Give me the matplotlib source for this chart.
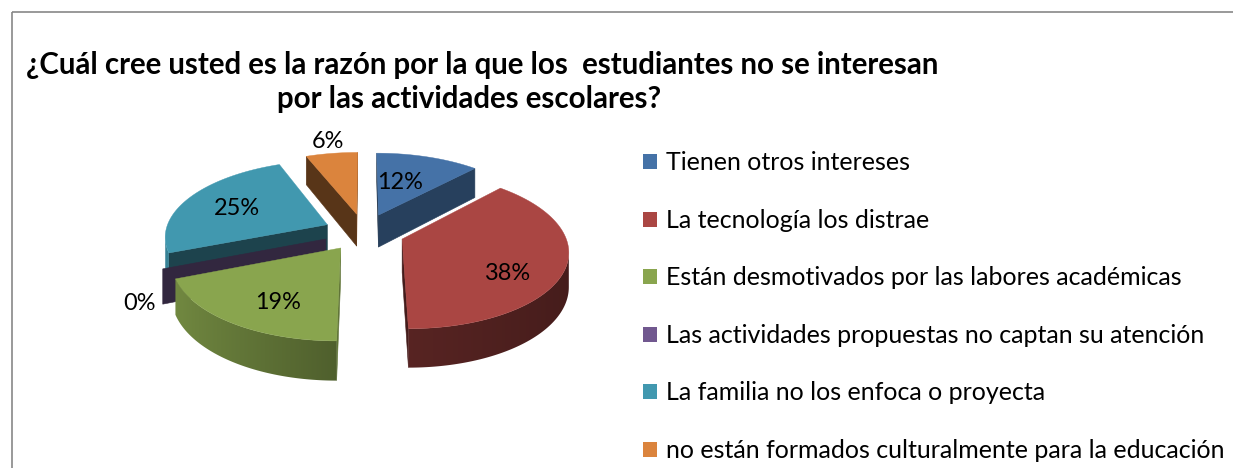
import numpy as np
import matplotlib
matplotlib.use("Agg")
import matplotlib.pyplot as plt
from matplotlib.patches import Polygon, Rectangle
from matplotlib.colors import to_rgb

# ---------------- data ----------------
categories = [
    "Tienen otros intereses",
    "La tecnología los distrae",
    "Están desmotivados por las labores académicas",
    "Las actividades propuestas no captan su atención",
    "La familia no los enfoca o proyecta",
    "no están formados culturalmente para la educación",
]
values = [12, 38, 19, 0, 25, 6]
colors = ["#4572A7", "#AA4643", "#89A54E", "#71588F", "#4198AF", "#DB843D"]
title_line1 = "¿Cuál cree usted es la razón por la que los  estudiantes no se interesan"
title_line2 = "por las actividades escolares?"

# label anchor positions (pixel, baseline) - layout only
label_pos = [(400, 189), (507, 280), (278, 309), (140, 310), (237, 215), (328, 148)]

FONT = "Lato"

W, H = 1233, 468
fig = plt.figure(figsize=(W / 100, H / 100), dpi=100)
ax = fig.add_axes([0, 0, 1, 1])
ax.axis("off")

# border of chart area
ax.add_patch(Rectangle((11.5, 12), W + 20, H + 20, fill=False,
                       edgecolor="#878787", linewidth=1.2))

# ---------------- 3D pie geometry ----------------
cx, cy = 364.0, 232.0
R, r = 162.0, 75.0
k = 0.14
D = 33.0
expl = 0.25
cam = np.array([0.0, -1.0 / k])


def proj(u, v, z):
    s = 1.0 / (1.0 + k * v)
    return cx + R * u * s, cy - r * v * s + D * z * s


def shade(c, f):
    c = np.array(to_rgb(c))
    return tuple(np.clip(c * f, 0, 1))


def side_factor(u):
    f = 0.54 - 0.27 * u if u < 0 else 0.54 - 0.11 * u
    return float(np.clip(f, 0.3, 0.9))


total = float(sum(values))
fr = np.array(values) / total
starts = np.concatenate([[0], np.cumsum(fr)[:-1]]) * 2 * np.pi
ends = np.cumsum(fr) * 2 * np.pi

slices = []
for i in range(len(values)):
    a0, a1 = starts[i], ends[i]
    m = 0.5 * (a0 + a1)
    ou, ov = expl * np.sin(m), expl * np.cos(m)
    slices.append((i, a0, a1, ou, ov))

order = sorted(slices, key=lambda s: -s[4])


def rim(ou, ov, th):
    return ou + np.sin(th), ov + np.cos(th)


def quad_wall(ou, ov, th):
    u1, v1 = rim(ou, ov, th)
    return [proj(ou, ov, 0), proj(u1, v1, 0), proj(u1, v1, 1), proj(ou, ov, 1)]


# walls
for (i, a0, a1, ou, ov) in order:
    base = colors[i]
    P = np.array([ou, ov])
    walls = []
    for th, n in ((a0, np.array([-np.cos(a0), np.sin(a0)])),
                  (a1, np.array([np.cos(a1), -np.sin(a1)]))):
        if np.dot(n, cam - P) > 0:
            f = 0.40 + 0.30 * max(n[0], 0) ** 2
            walls.append((rim(ou, ov, th)[1], th, f))
    walls.sort(key=lambda w: -w[0])
    for _, th, f in walls:
        col = shade(base, f)
        ax.add_patch(Polygon(quad_wall(ou, ov, th), closed=True,
                             facecolor=col, edgecolor=col, linewidth=0.4))
    # outer curved wall with smooth horizontal gradient
    if a1 > a0:
        ths = np.linspace(a0, a1, 400)
        vis = []
        for t in ths:
            n = np.array([np.sin(t), np.cos(t)])
            uu, vv = rim(ou, ov, t)
            vis.append(np.dot(n, cam - np.array([uu, vv])) > 0)
        vis = np.array(vis)
        if vis.any():
            tv = ths[vis]
            top = [proj(*rim(ou, ov, t), 0) for t in tv]
            bot = [proj(*rim(ou, ov, t), 1) for t in tv]
            poly = Polygon(top + bot[::-1], closed=True, facecolor="none",
                           edgecolor="none")
            ax.add_patch(poly)
            xs = np.array([p[0] for p in top])
            fs = np.array([side_factor(rim(ou, ov, t)[0]) for t in tv])
            idx = np.argsort(xs)
            xs, fs = xs[idx], fs[idx]
            allpts = np.array(top + bot)
            x0, x1 = allpts[:, 0].min() - 1, allpts[:, 0].max() + 1
            y0, y1 = allpts[:, 1].min() - 1, allpts[:, 1].max() + 1
            ncol = 300
            gx = np.linspace(x0, x1, ncol)
            gf = np.interp(gx, xs, fs)
            img = np.array(to_rgb(base))[None, None, :] * gf[None, :, None]
            img = np.clip(img, 0, 1)
            im = ax.imshow(img, extent=[x0, x1, y1, y0], aspect="auto",
                           interpolation="bilinear", zorder=1)
            im.set_clip_path(poly)

# top faces
for (i, a0, a1, ou, ov) in order:
    if a1 <= a0:
        continue
    ths = np.linspace(a0, a1, 200)
    pts = [proj(ou, ov, 0)] + [proj(*rim(ou, ov, t), 0) for t in ths]
    ax.add_patch(Polygon(pts, closed=True, facecolor=colors[i],
                         edgecolor=colors[i], linewidth=0.3, zorder=2))

ax.set_xlim(0, W)
ax.set_ylim(H, 0)

# ---------------- text ----------------
renderer = fig.canvas.get_renderer()


def fit(text, target, weight="normal", base=20.0):
    t = fig.text(0, 0, text, fontsize=base, family=FONT, weight=weight)
    w = t.get_window_extent(renderer).width
    t.remove()
    return base * target / w


title_fs = fit(title_line1, 916, "bold")
ax.text(482, 74, title_line1, fontsize=title_fs, family=FONT, weight="bold",
        ha="center", va="baseline", color="black", zorder=5)
ax.text(469, 108, title_line2, fontsize=title_fs, family=FONT, weight="bold",
        ha="center", va="baseline", color="black", zorder=5)

lab_fs = fit("38%", 46)
for (x, y), v in zip(label_pos, values):
    ax.text(x, y, f"{v}%", fontsize=lab_fs, family=FONT, ha="center",
            va="baseline", color="black", zorder=5)

leg_fs = fit(categories[3], 541)
for i, (cat, col) in enumerate(zip(categories, colors)):
    top = 154 + 57.6 * i
    ax.add_patch(Rectangle((643, top), 14, 15, facecolor=col, edgecolor="none"))
    ax.text(666, top + 16, cat, fontsize=leg_fs, family=FONT, ha="left",
            va="baseline", color="black", clip_on=False, zorder=5)

fig.savefig("out.png", dpi=100)
